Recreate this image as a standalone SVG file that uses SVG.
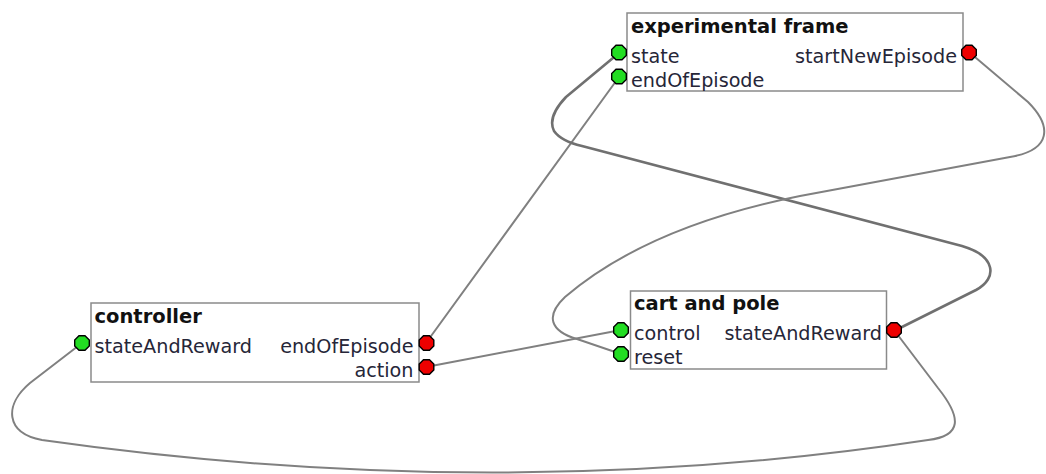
<svg xmlns="http://www.w3.org/2000/svg" width="1046" height="474" viewBox="0 0 1046 474">
<style>
.box{fill:#fff;stroke:#8a8a8a;stroke-width:1.5}
.title{font-family:"DejaVu Sans",sans-serif;font-weight:bold;font-size:19.5px;fill:#111}
.lbl{font-family:"DejaVu Sans",sans-serif;font-size:19.2px;fill:#262638}
.r{text-anchor:end}
.wire{fill:none;stroke:#808080;stroke-width:2;stroke-linecap:round;stroke-linejoin:round}
.wire2{fill:none;stroke:#707070;stroke-width:2.6;stroke-linecap:round;stroke-linejoin:round}
.in{fill:#22dd22;stroke:#000;stroke-width:1.4}
.out{fill:#ee0000;stroke:#000;stroke-width:1.4}
</style>
<defs>
<polygon id="oct" points="3,-7.3 7.3,-3 7.3,3 3,7.3 -3,7.3 -7.3,3 -7.3,-3 -3,-7.3"/>
</defs>
<g id="connectors">
<path class="wire" d="M426,343 L619,77"/>
<path class="wire" d="M426,367 L621,330"/>
<path class="wire2" d="M619,53 L566,97 Q547,117 554,131 Q561,141 582,146 L962,246 C996,256 998,278 976,290 L896,330"/>
<path class="wire" d="M969,52 L1028,102 C1052,126 1052,150 1010,157 L800,196 C700,216 620,250 565,297 C545,316 550,331 577,339 L621,354"/>
<path class="wire" d="M894,330 L938,388 C962,418 962,436 928,440 Q500,505 42,440 C5,433 4,405 30,383 L82,343"/>
</g>
<g id="experimental-frame">
<rect class="box" x="627" y="13" width="336" height="78"/>
<text class="title" x="631" y="33">experimental frame</text>
<text class="lbl" x="631" y="62.5">state</text>
<text class="lbl" x="631" y="86.5">endOfEpisode</text>
<text class="lbl r" x="957" y="62.5">startNewEpisode</text>
<use href="#oct" class="in" x="619" y="52.5"/>
<use href="#oct" class="in" x="619" y="76.5"/>
<use href="#oct" class="out" x="969" y="52.5"/>
</g>
<g id="controller">
<rect class="box" x="91" y="303" width="328" height="79"/>
<text class="title" x="94.5" y="323">controller</text>
<text class="lbl" x="94.5" y="352.5">stateAndReward</text>
<text class="lbl r" x="413.5" y="352.5">endOfEpisode</text>
<text class="lbl r" x="413.5" y="376.5">action</text>
<use href="#oct" class="in" x="82" y="343"/>
<use href="#oct" class="out" x="426.5" y="343"/>
<use href="#oct" class="out" x="426.5" y="367"/>
</g>
<g id="cart-and-pole">
<rect class="box" x="630.5" y="291" width="256" height="78"/>
<text class="title" x="634" y="310">cart and pole</text>
<text class="lbl" x="634" y="339.5">control</text>
<text class="lbl" x="634" y="363.5">reset</text>
<text class="lbl r" x="882" y="339.5">stateAndReward</text>
<use href="#oct" class="in" x="621" y="330"/>
<use href="#oct" class="in" x="621" y="354"/>
<use href="#oct" class="out" x="894" y="330"/>
</g>
</svg>
